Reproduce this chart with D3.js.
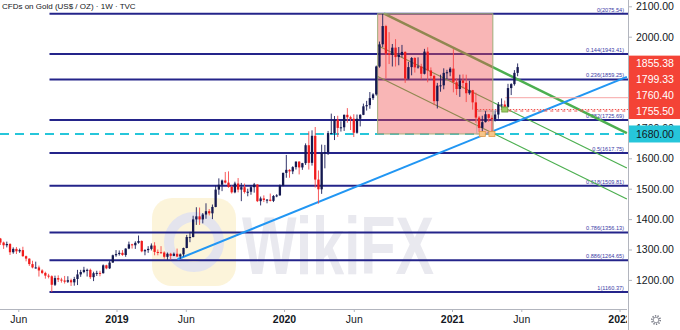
<!DOCTYPE html>
<html>
<head>
<meta charset="utf-8">
<script src="https://cdn.jsdelivr.net/npm/d3@7"></script>
<style>
body { margin: 0; background: #fff; }
svg { display: block; font-family: "Liberation Sans", Arial, sans-serif; }
</style>
</head>
<body>
<div id="chart"></div>
<script>
// weekly candles, week starting Monday
var firstWeek = "2018-04-16";
var firstOpen = 1346;
var closes = [
  1336,1323,1314,1318,1291,1302,1294,1298,1278,1270,1252,1241,1241,1231,1223,1214,1212,1184,1206,1201,
  1198,1194,1199,1192,1203,1218,1226,1233,1233,1209,1222,1223,1222,1248,1238,1257,1281,1285,
  1289,1282,1303,1317,1314,1322,1328,1294,1298,1302,1313,1292,1291,1290,1276,1286,1279,1286,1277,1284,
  1305,1341,1341,1399,1409,1399,1415,1426,1419,1440,1497,1513,1527,1520,1506,1488,1517,1497,1505,1489,
  1490,1505,1514,1459,1468,1463,1464,1460,1476,1478,1510,1552,
  1562,1557,1571,1589,1570,1584,1643,1585,1674,1530,1498,1618,1620,1683,1683,1727,1700,1702,1743,1735,
  1730,1684,1730,1743,1771,1775,1798,1810,1902,1975,2035,1944,1940,1964,1933,1940,1950,1862,1900,1930,
  1899,1902,1878,1951,1889,1871,1788,1839,1840,1881,1883,1895,
  1850,1828,1856,1848,1814,1824,1784,1734,1700,1719,1745,1733,1729,1744,1777,1777,1769,1831,1844,1881,1900
];
var highs = [
  1354,1338,1326,1326,1321,1307,1308,1303,1309,1280,1271,1263,1260,1247,1235,1227,1220,1215,1214,1215,
  1207,1213,1212,1204,1210,1233,1233,1243,1237,1237,1227,1230,1230,1251,1250,1262,1283,1298,
  1297,1298,1304,1326,1319,1327,1346,1330,1301,1311,1320,1324,1300,1311,1294,1290,1289,1290,1303,1287,
  1306,1348,1358,1411,1439,1438,1420,1452,1433,1448,1510,1534,1530,1555,1557,1511,1523,1535,1519,1517,
  1500,1511,1519,1514,1474,1478,1466,1484,1479,1482,1514,1553,
  1611,1564,1574,1590,1591,1585,1649,1689,1692,1703,1560,1645,1644,1690,1747,1739,1740,1722,1744,1765,
  1740,1745,1744,1745,1780,1789,1818,1814,1905,1984,2075,2039,2015,1976,1992,1966,1973,1952,1917,1933,
  1933,1932,1911,1960,1965,1899,1875,1848,1875,1896,1891,1900,
  1959,1863,1875,1876,1875,1855,1825,1816,1739,1740,1755,1746,1741,1758,1785,1797,1790,1845,1847,1890,1912
];
var lows = [
  1332,1315,1302,1307,1282,1286,1285,1289,1276,1261,1246,1238,1237,1211,1219,1204,1205,1160,1180,1193,
  1191,1188,1190,1180,1181,1183,1210,1222,1211,1203,1196,1213,1212,1221,1235,1236,1256,1276,
  1280,1279,1276,1301,1303,1302,1319,1291,1281,1289,1297,1281,1281,1286,1270,1266,1267,1278,1275,1269,
  1277,1304,1324,1340,1381,1381,1386,1401,1412,1400,1439,1480,1492,1517,1503,1484,1485,1488,1459,1484,
  1475,1480,1487,1456,1445,1456,1452,1458,1456,1472,1477,1508,
  1536,1536,1548,1563,1547,1562,1578,1563,1576,1504,1451,1483,1567,1611,1679,1660,1670,1688,1690,1717,
  1693,1670,1681,1705,1742,1757,1763,1792,1806,1898,1966,1863,1910,1902,1902,1906,1932,1848,1860,1873,
  1882,1895,1860,1876,1850,1860,1775,1764,1819,1827,1860,1870,
  1817,1808,1802,1830,1785,1809,1760,1717,1687,1677,1718,1720,1677,1721,1730,1764,1758,1767,1808,1839,1870
];

var fibLevels = ["0", "0.144", "0.236", "0.382", "0.5", "0.618", "0.786", "0.886", "1"];
var fibPrices = [2075.54, 1943.41, 1859.25, 1725.69, 1617.75, 1509.81, 1356.13, 1264.65, 1160.37];
var fibStart = "2018-08-08";
var supportPrice = 1680;
var priceTicks = [1200, 1300, 1400, 1500, 1600, 1700, 2000, 2100];
var priceTags = [1855.38, 1799.33, 1760.40, 1755.50];
var timeTicks = ["2018-06-01", "2019-01-01", "2019-06-01", "2020-01-01", "2020-06-01", "2021-01-01", "2021-06-01", "2022-01-01"];
var timeLabels = ["Jun", "2019", "Jun", "2020", "Jun", "2021", "Jun", "2022"];
var trendLine = [["2019-05-14", 1268], ["2022-01-17", 1868]];
var channelTop = [["2020-08-06", 2075.54], ["2022-01-17", 1683]];
var channelMid = [["2020-07-23", 1971], ["2022-01-17", 1568]];
var channelBot = [["2020-07-23", 1869], ["2022-01-17", 1466]];
var zoneDates = ["2020-07-23", "2021-03-31"];
var zonePrices = [2075.54, 1680];
var bottomDates = ["2021-03-08", "2021-03-29"];
var breakMark = ["2021-04-26", 1760.4];
var resistStart = "2021-04-27";
var retestStart = "2021-02-24";
var retestBoxEnd = "2021-04-01";

var W = 680, H = 330;
var plotW = 628, plotH = 309;
var parse = d3.utcParse("%Y-%m-%d");

var x = d3.scaleUtc()
  .domain([parse("2019-01-01"), parse("2021-01-01")])
  .range([116.5, 452]);
var y = d3.scaleLinear()
  .domain([1200, 2000])
  .range([279.9, 36.7]);

var candles = closes.map(function(c, i) {
  var d = new Date(parse(firstWeek).getTime() + i * 7 * 864e5);
  return { date: d, open: i == 0 ? firstOpen : closes[i - 1], close: c, high: highs[i], low: lows[i] };
});

var svg = d3.select("#chart").append("svg")
  .attr("width", W)
  .attr("height", H);

svg.append("rect").attr("width", W).attr("height", H).attr("fill", "#fff");

svg.append("defs").append("clipPath").attr("id", "plot")
  .append("rect").attr("width", plotW).attr("height", plotH);

var plot = svg.append("g").attr("clip-path", "url(#plot)");

// watermark
var wm = plot.append("g");
wm.append("rect")
  .attr("x", 152).attr("y", 198).attr("width", 84).attr("height", 88).attr("rx", 20)
  .attr("fill", "#fcf3d6").attr("opacity", 0.9);
wm.append("circle")
  .attr("cx", 194).attr("cy", 242).attr("r", 25)
  .attr("fill", "none").attr("stroke", "#e4e4ed").attr("stroke-width", 10);
wm.append("text")
  .attr("x", 242).attr("y", 274)
  .attr("font-size", 82).attr("font-weight", "bold")
  .attr("textLength", 192).attr("lengthAdjust", "spacingAndGlyphs")
  .attr("fill", "#e9e9ef")
  .text("WikiFX");

// fibonacci levels
var x0 = x(parse(fibStart));
plot.selectAll(".fib")
  .data(fibPrices)
  .enter()
  .append("line")
  .attr("x1", x0)
  .attr("x2", plotW)
  .attr("y1", function(d) { return y(d); })
  .attr("y2", function(d) { return y(d); })
  .attr("stroke", "#24248a")
  .attr("stroke-width", 2);

plot.selectAll(".fibtext")
  .data(fibPrices)
  .enter()
  .append("text")
  .attr("x", 624)
  .attr("y", function(d) { return y(d) - 2; })
  .attr("text-anchor", "end")
  .attr("font-size", 5.6)
  .attr("fill", "#3b3ba6")
  .text(function(d, i) { return fibLevels[i] + "(" + d.toFixed(2) + ")"; });

// 1680 support
plot.append("line")
  .attr("x1", 0).attr("x2", plotW)
  .attr("y1", y(supportPrice)).attr("y2", y(supportPrice))
  .attr("stroke", "#26c6da")
  .attr("stroke-width", 2)
  .attr("stroke-dasharray", "9,6");

// channel + trendline
function seg(pts, color, width) {
  plot.append("line")
    .attr("x1", x(parse(pts[0][0]))).attr("y1", y(pts[0][1]))
    .attr("x2", x(parse(pts[1][0]))).attr("y2", y(pts[1][1]))
    .attr("stroke", color)
    .attr("stroke-width", width);
}
seg(channelTop, "#4caf50", 2.5);
seg(channelMid, "#4caf50", 1.2);
seg(channelBot, "#4caf50", 1.2);
seg(trendLine, "#2196f3", 2);

// zone
plot.append("rect")
  .attr("x", x(parse(zoneDates[0])))
  .attr("y", y(zonePrices[0]))
  .attr("width", x(parse(zoneDates[1])) - x(parse(zoneDates[0])))
  .attr("height", y(zonePrices[1]) - y(zonePrices[0]))
  .attr("fill", "rgba(240,80,80,0.42)")
  .attr("stroke", "#9fae7a")
  .attr("stroke-width", 1);

// resistance / retest lines
plot.append("line")
  .attr("x1", x(parse(resistStart))).attr("x2", plotW)
  .attr("y1", y(priceTags[1])).attr("y2", y(priceTags[1]))
  .attr("stroke", "#f6a5a5").attr("stroke-width", 1);
plot.selectAll(".retest")
  .data(priceTags.slice(2))
  .enter()
  .append("line")
  .attr("x1", x(parse(retestStart))).attr("x2", plotW)
  .attr("y1", function(d) { return y(d); })
  .attr("y2", function(d) { return y(d); })
  .attr("stroke", "#ef5350")
  .attr("stroke-width", 1)
  .attr("stroke-dasharray", function(d, i) { return i == 0 ? "1.5,1.5" : "0,1.5,1.5"; });
plot.append("rect")
  .attr("x", x(parse(retestStart)))
  .attr("y", y(priceTags[3]))
  .attr("width", x(parse(retestBoxEnd)) - x(parse(retestStart)))
  .attr("height", y(supportPrice) - y(priceTags[3]))
  .attr("fill", "none")
  .attr("stroke", "#b8a8a0")
  .attr("stroke-width", 0.8);

// candles
var bw = 2.3;
var cg = plot.selectAll(".candle")
  .data(candles)
  .enter()
  .append("g");
cg.append("line")
  .attr("x1", function(d) { return x(d.date); })
  .attr("x2", function(d) { return x(d.date); })
  .attr("y1", function(d) { return y(d.high); })
  .attr("y2", function(d) { return y(d.low); })
  .attr("stroke", function(d) { return d.close >= d.open ? "#1c1f5a" : "#f7474a"; })
  .attr("stroke-width", 0.9);
cg.append("rect")
  .attr("x", function(d) { return x(d.date) - bw / 2; })
  .attr("y", function(d) { return y(Math.max(d.open, d.close)); })
  .attr("width", bw)
  .attr("height", function(d) { return Math.max(1, Math.abs(y(d.open) - y(d.close))); })
  .attr("fill", function(d) { return d.close >= d.open ? "#141850" : "#f01c1c"; });

// double bottom & break markers
plot.selectAll(".bottom")
  .data(bottomDates)
  .enter()
  .append("rect")
  .attr("x", function(d) { return x(parse(d)) - 3; })
  .attr("y", y(supportPrice) - 2.5)
  .attr("width", 6).attr("height", 5)
  .attr("fill", "#f7c58a").attr("stroke", "#e39a45").attr("stroke-width", 0.8);
plot.append("rect")
  .attr("x", x(parse(breakMark[0])) - 3)
  .attr("y", y(breakMark[1]) - 2.5)
  .attr("width", 6).attr("height", 5)
  .attr("fill", "#9ccc65").attr("stroke", "#6a9f3a").attr("stroke-width", 0.8);

// title
svg.append("text")
  .attr("x", 2).attr("y", 9)
  .attr("font-size", 8)
  .attr("fill", "#131722")
  .text("CFDs on Gold (US$ / OZ) \u00b7 1W \u00b7 TVC");

// price axis
var yAxis = svg.append("g")
  .attr("transform", "translate(" + plotW + ",0)")
  .call(d3.axisRight(y).tickValues(priceTicks).tickSize(4).tickPadding(4).tickFormat(d3.format(".2f")));
yAxis.select(".domain").remove();
yAxis.selectAll("line").attr("stroke", "#b2b5be");
yAxis.selectAll("text").attr("font-size", 10.5).attr("fill", "#131722").attr("font-family", null);

svg.append("line")
  .attr("x1", plotW + 0.5).attr("x2", plotW + 0.5)
  .attr("y1", 0).attr("y2", H)
  .attr("stroke", "#b2b5be");

// tags on price axis, stacked upward so they do not overlap
var tagY = [];
var prev = Infinity;
priceTags.slice().reverse().forEach(function(p) {
  var ty = Math.min(y(p), prev - 15.8);
  tagY.unshift(ty);
  prev = ty;
});
var tags = svg.append("g");
tags.append("rect")
  .attr("x", plotW + 1).attr("y", tagY[0] - 8)
  .attr("width", W - plotW).attr("height", tagY[tagY.length - 1] - tagY[0] + 16)
  .attr("fill", "#f44336");
tags.selectAll("text")
  .data(priceTags)
  .enter()
  .append("text")
  .attr("x", plotW + 8)
  .attr("y", function(d, i) { return tagY[i]; })
  .attr("dy", "0.35em")
  .attr("font-size", 10.5)
  .attr("fill", "#fff")
  .text(function(d) { return d.toFixed(2); });

svg.append("rect")
  .attr("x", plotW + 1).attr("y", y(supportPrice) - 8.5)
  .attr("width", W - plotW).attr("height", 17)
  .attr("fill", "#26c6da");
svg.append("text")
  .attr("x", plotW + 8).attr("y", y(supportPrice))
  .attr("dy", "0.35em")
  .attr("font-size", 10.5)
  .attr("fill", "#131722")
  .text(supportPrice.toFixed(2));

// time axis
svg.append("clipPath").attr("id", "xclip")
  .append("rect").attr("width", plotW - 1).attr("height", H);
var xAxis = svg.append("g")
  .attr("transform", "translate(0," + plotH + ")")
  .attr("clip-path", "url(#xclip)")
  .call(d3.axisBottom(x)
    .tickValues(timeTicks.map(parse))
    .tickSize(3)
    .tickPadding(4)
    .tickFormat(function(d, i) { return timeLabels[i]; }));
xAxis.select(".domain").attr("stroke", "#b2b5be").attr("d", "M0,0.5H" + plotW);
xAxis.selectAll("line").attr("stroke", "#b2b5be");
xAxis.selectAll("text")
  .attr("font-size", 10.5)
  .attr("font-family", null)
  .attr("fill", "#131722")
  .attr("font-weight", function(d, i) { return timeLabels[i] == "Jun" ? "normal" : "bold"; });

// settings icon
var gear = svg.append("g").attr("transform", "translate(656,320)");
gear.append("circle").attr("r", 4.2).attr("fill", "none").attr("stroke", "#787b86").attr("stroke-width", 1.6).attr("stroke-dasharray", "1.3,1.3");
gear.append("circle").attr("r", 2.8).attr("fill", "#fff").attr("stroke", "#787b86").attr("stroke-width", 0.8);
</script>
</body>
</html>
